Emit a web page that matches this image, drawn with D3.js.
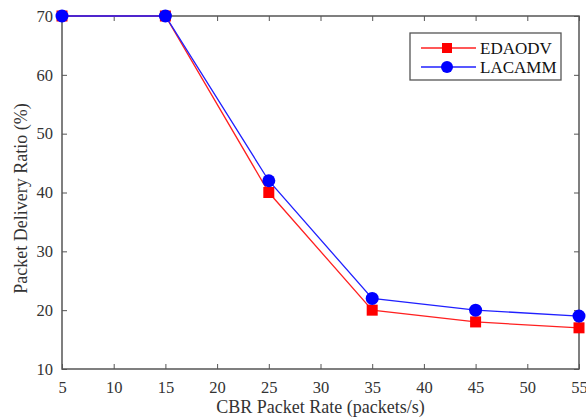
<!DOCTYPE html>
<html>
<head>
<meta charset="utf-8">
<script src="https://cdn.jsdelivr.net/npm/d3@7"></script>
<style>
body { margin: 0; background: #fff; }
text { font-family: "Liberation Serif", "Times New Roman", serif; }
</style>
</head>
<body>
<div id="chart"></div>
<script>
// data
var rates = [5, 15, 25, 35, 45, 55];
var edaodv = [70, 70, 40, 20, 18, 17];
var lacamm = [70, 70, 42, 22, 20, 19];
var xTicks = [5, 10, 15, 20, 25, 30, 35, 40, 45, 50, 55];
var yTicks = [10, 20, 30, 40, 50, 60, 70];

var margin = {top: 16, right: 7, bottom: 51, left: 62},
    width = 586 - margin.left - margin.right,
    height = 420 - margin.top - margin.bottom;

var svg = d3.select("#chart")
  .append("svg")
  .attr("width", 586)
  .attr("height", 420)
  .append("g")
  .attr("transform", "translate(" + margin.left + "," + margin.top + ")");

var x = d3.scaleLinear().domain([5, 55]).range([0, width]);
var y = d3.scaleLinear().domain([10, 70]).range([height, 0]);

var axisColor = "#555";
var textColor = "#333";

// box
svg.append("rect")
  .attr("width", width).attr("height", height)
  .attr("fill", "none").attr("stroke", axisColor).attr("stroke-width", 1.5);

// axes with inward ticks
var gx = svg.append("g")
  .attr("transform", "translate(0," + height + ")")
  .call(d3.axisBottom(x).tickValues(xTicks).tickSize(-5).tickPadding(12));
var gy = svg.append("g")
  .call(d3.axisLeft(y).tickValues(yTicks).tickSize(-5).tickPadding(9));
var gxTop = svg.append("g")
  .call(d3.axisTop(x).tickValues(xTicks).tickSize(-5).tickFormat(""));
var gyRight = svg.append("g")
  .attr("transform", "translate(" + width + ",0)")
  .call(d3.axisRight(y).tickValues(yTicks).tickSize(-5).tickFormat(""));

[gx, gy, gxTop, gyRight].forEach(function(g) {
  g.select(".domain").remove();
  g.selectAll(".tick line").attr("stroke", axisColor);
  g.selectAll(".tick text")
    .attr("fill", textColor)
    .style("font-size", "16.5px")
    .style("font-family", "Liberation Serif, serif");
});

// axis labels
svg.append("text")
  .attr("x", width / 2)
  .attr("y", height + 44)
  .attr("text-anchor", "middle")
  .attr("fill", textColor)
  .style("font-size", "18px")
  .text("CBR Packet Rate (packets/s)");

svg.append("text")
  .attr("text-anchor", "middle")
  .attr("transform", "translate(-35," + (height / 2 + 6) + ")rotate(-90)")
  .attr("fill", textColor)
  .style("font-size", "18px")
  .text("Packet Delivery Ratio (%)");

var line = d3.line()
  .x(function(d, i) { return x(rates[i]); })
  .y(function(d) { return y(d); });

// EDAODV
svg.append("path")
  .datum(edaodv)
  .attr("fill", "none")
  .attr("stroke", "#ff2020")
  .attr("stroke-width", 1.3)
  .attr("d", line);
svg.append("g")
  .selectAll("rect")
  .data(edaodv)
  .enter()
  .append("rect")
  .attr("x", function(d, i) { return x(rates[i]) - 5.5; })
  .attr("y", function(d) { return y(d) - 5.5; })
  .attr("width", 11)
  .attr("height", 11)
  .attr("fill", "#ff0000");

// LACAMM
svg.append("path")
  .datum(lacamm)
  .attr("fill", "none")
  .attr("stroke", "#2020ff")
  .attr("stroke-width", 1.3)
  .attr("d", line);
svg.append("g")
  .selectAll("circle")
  .data(lacamm)
  .enter()
  .append("circle")
  .attr("cx", function(d, i) { return x(rates[i]); })
  .attr("cy", function(d) { return y(d); })
  .attr("r", 6.5)
  .attr("fill", "#0000ff");

// legend
var legend = svg.append("g").attr("transform", "translate(" + (410 - margin.left) + "," + (33 - margin.top) + ")");
legend.append("rect")
  .attr("width", 151).attr("height", 47)
  .attr("fill", "#fff").attr("stroke", axisColor).attr("stroke-width", 1.3);
var entries = [
  {name: "EDAODV", color: "#ff2020", mark: "square"},
  {name: "LACAMM", color: "#2020ff", mark: "circle"}
];
entries.forEach(function(e, i) {
  var yy = 15 + i * 19;
  legend.append("line")
    .attr("x1", 11).attr("x2", 66).attr("y1", yy).attr("y2", yy)
    .attr("stroke", e.color).attr("stroke-width", 1.3);
  if (e.mark == "square") {
    legend.append("rect")
      .attr("x", 37 - 5).attr("y", yy - 5).attr("width", 10).attr("height", 10)
      .attr("fill", "#ff0000");
  } else {
    legend.append("circle")
      .attr("cx", 37).attr("cy", yy).attr("r", 6)
      .attr("fill", "#0000ff");
  }
  legend.append("text")
    .attr("x", 70).attr("y", yy + 6)
    .attr("fill", "#111")
    .style("font-size", "17px")
    .text(e.name);
});
</script>
</body>
</html>
